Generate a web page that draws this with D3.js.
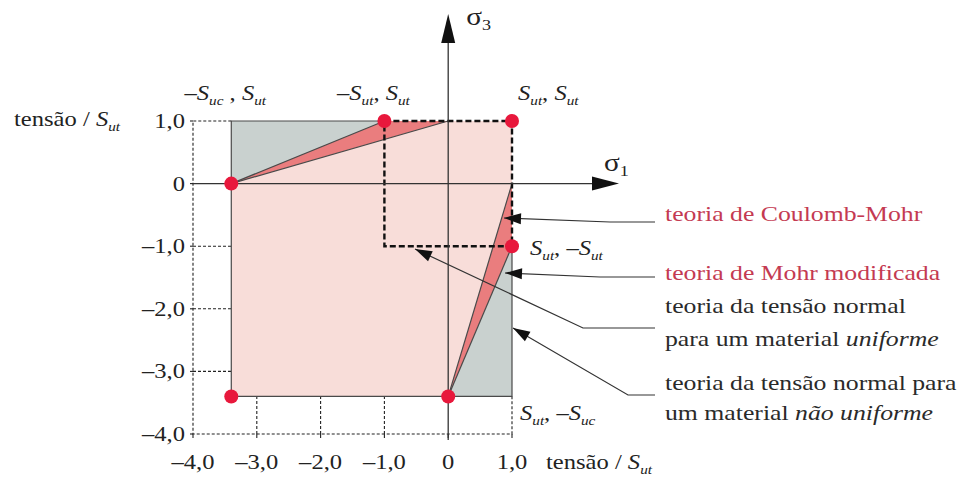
<!DOCTYPE html>
<html>
<head>
<meta charset="utf-8">
<script src="https://cdn.jsdelivr.net/npm/d3@7"></script>
<style>
  body { margin: 0; background: #fff; }
  svg { display: block; }
</style>
</head>
<body>
<svg id="chart" width="964" height="481" font-family="'Liberation Serif', Tinos, 'Times New Roman', Times, serif"></svg>
<script>
// Strengths, normalised by S_ut
const Sut = 1.0;
const Suc = 3.4;

// Axis ticks
const xTickValues = [-4, -3, -2, -1, 0, 1];
const xTickLabels = ["–4,0", "–3,0", "–2,0", "–1,0", "0", "1,0"];
const yTickValues = [1, 0, -1, -2, -3, -4];
const yTickLabels = ["1,0", "0", "–1,0", "–2,0", "–3,0", "–4,0"];

// Failure envelopes in the (σ1, σ3) plane
const nonUniformNormal = [[-Suc, Sut], [Sut, Sut], [Sut, -Suc], [-Suc, -Suc]];
const coulombMohr = [[-Suc, 0], [0, Sut], [Sut, Sut], [Sut, 0], [0, -Suc], [-Suc, -Suc]];
const modifiedMohrUpper = [[-Suc, 0], [-Sut, Sut], [0, Sut]];
const modifiedMohrLower = [[Sut, 0], [Sut, -Sut], [0, -Suc]];
const uniformNormal = [[-Sut, Sut], [Sut, Sut], [Sut, -Sut], [-Sut, -Sut]];
const keyPoints = [[-Suc, 0], [-Sut, Sut], [Sut, Sut], [Sut, -Sut], [0, -Suc], [-Suc, -Suc]];

// Corner labels: parts are [text, italic, subscript]
const cornerLabels = [
  { at: [-Suc, Sut], parts: [["–", 0, 0], ["S", 1, 0], ["uc", 1, 1], [" , ", 0, 0], ["S", 1, 0], ["ut", 1, 1]] },
  { at: [-Sut, Sut], parts: [["–", 0, 0], ["S", 1, 0], ["ut", 1, 1], [", ", 0, 0], ["S", 1, 0], ["ut", 1, 1]] },
  { at: [Sut, Sut],  parts: [["S", 1, 0], ["ut", 1, 1], [", ", 0, 0], ["S", 1, 0], ["ut", 1, 1]] },
  { at: [Sut, -Sut], parts: [["S", 1, 0], ["ut", 1, 1], [", –", 0, 0], ["S", 1, 0], ["ut", 1, 1]] },
  { at: [Sut, -Suc], parts: [["S", 1, 0], ["ut", 1, 1], [", –", 0, 0], ["S", 1, 0], ["uc", 1, 1]] }
];

// Legend entries (lines of [text, italic])
const legendItems = [
  { color: "#c43a52", lines: [[["teoria de Coulomb-Mohr", 0]]] },
  { color: "#c43a52", lines: [[["teoria de Mohr modificada", 0]]] },
  { color: "#2a2a2a", lines: [[["teoria da tensão normal", 0]], [["para um material ", 0], ["uniforme", 1]]] },
  { color: "#2a2a2a", lines: [[["teoria da tensão normal para", 0]], [["um material ", 0], ["não uniforme", 1]]] }
];

const SX = 1.17;           // horizontal text stretch
const svg = d3.select("#chart");

const x = d3.scaleLinear().domain([-4, 1]).range([193, 512]);
const y = d3.scaleLinear().domain([-4, 1]).range([434, 121]);
const line = d3.line().x(d => x(d[0])).y(d => y(d[1]));
const closed = d3.line().x(d => x(d[0])).y(d => y(d[1])).curve(d3.curveLinearClosed);

// Text helper: parts = [text, italic, subscript]
function richText(g, px, py, parts, opts) {
  const t = g.append("text")
    .attr("transform", `translate(${px},${py}) scale(${SX},1)`)
    .attr("font-size", opts.size)
    .attr("fill", opts.color || "#222")
    .attr("text-anchor", opts.anchor || "start");
  let shifted = false;
  parts.forEach(p => {
    const sp = t.append("tspan").text(p[0]);
    if (p[1]) sp.attr("font-style", "italic");
    if (p[2]) {
      sp.attr("font-size", opts.size * 0.62);
      if (!shifted) { sp.attr("dy", 5); shifted = true; }
    } else if (shifted) {
      sp.attr("dy", -5); shifted = false;
    }
  });
  return t;
}

// Fills
const fills = svg.append("g");
fills.append("path").attr("d", closed(nonUniformNormal)).attr("fill", "#c9d1cf");
fills.append("path").attr("d", closed(coulombMohr)).attr("fill", "#f8ddd9");
[modifiedMohrUpper, modifiedMohrLower].forEach(tri => {
  fills.append("path").attr("d", closed(tri)).attr("fill", "#ea7d7e");
});

// Dashed frame, grid stubs and ticks
const frame = svg.append("g").attr("fill", "none").attr("stroke", "#222")
  .attr("stroke-width", 1.1).attr("stroke-dasharray", "3,2");
frame.append("path").attr("d", line([[-Suc, 1], [-4, 1], [-4, -4], [1, -4], [1, -Suc]]));
yTickValues.filter(v => v < 0 && v > -4).forEach(v => {
  frame.append("path").attr("d", line([[-4, v], [-Suc, v]]));
});
xTickValues.filter(v => v > -4 && v < 0).forEach(v => {
  frame.append("path").attr("d", line([[v, -4], [v, -Suc]]));
});
const ticks = svg.append("g").attr("stroke", "#222").attr("stroke-width", 1.1);
yTickValues.forEach(v => {
  ticks.append("line").attr("x1", x(-4) - 3).attr("x2", x(-4)).attr("y1", y(v)).attr("y2", y(v));
});
xTickValues.forEach(v => {
  ticks.append("line").attr("x1", x(v)).attr("x2", x(v)).attr("y1", y(-4)).attr("y2", y(-4) + 4);
});

// Envelope outlines
const outl = svg.append("g").attr("fill", "none").attr("stroke", "#4a4a4a").attr("stroke-width", 1.2);
outl.append("path").attr("d", line([[-Sut, Sut], [-Suc, Sut], [-Suc, -Suc], [Sut, -Suc], [Sut, -Sut]]));
outl.append("path").attr("d", line([coulombMohr[0], coulombMohr[1]]));
outl.append("path").attr("d", line([modifiedMohrUpper[0], modifiedMohrUpper[1]]));
outl.append("path").attr("d", line([coulombMohr[3], coulombMohr[4]]));
outl.append("path").attr("d", line([modifiedMohrLower[1], modifiedMohrLower[2]]));

// Uniform normal-stress square (thick dashes)
svg.append("path").attr("d", closed(uniformNormal))
  .attr("fill", "none").attr("stroke", "#111").attr("stroke-width", 2.4)
  .attr("stroke-dasharray", "6,3");

// Principal stress axes with arrowheads
const axes = svg.append("g");
axes.append("line").attr("x1", x(0)).attr("x2", x(0)).attr("y1", y(-4) + 6).attr("y2", 30)
  .attr("stroke", "#333").attr("stroke-width", 1.3);
axes.append("path").attr("d", `M${x(0)},14 L${x(0) - 7},43 L${x(0) + 7},43 Z`).attr("fill", "#111");
axes.append("line").attr("x1", x(-4)).attr("x2", 600).attr("y1", y(0)).attr("y2", y(0))
  .attr("stroke", "#333").attr("stroke-width", 1.3);
axes.append("path").attr("d", `M619,${y(0)} L592,${y(0) - 7} L592,${y(0) + 7} Z`).attr("fill", "#111");

richText(axes, x(0) + 18, 25, [["σ", 0, 0], ["3", 0, 1]], { size: 25, color: "#222" });
richText(axes, 604, 171, [["σ", 0, 0], ["1", 0, 1]], { size: 25, color: "#222" });

// Key points
svg.append("g").selectAll("circle").data(keyPoints).join("circle")
  .attr("cx", d => x(d[0])).attr("cy", d => y(d[1])).attr("r", 7)
  .attr("fill", "#e8183c");

// Tick labels
const tl = svg.append("g");
xTickValues.forEach((v, i) => {
  richText(tl, x(v), 469, [[xTickLabels[i], 0, 0]], { size: 21, anchor: "middle" });
});
yTickValues.forEach((v, i) => {
  richText(tl, 185, y(v) + 7, [[yTickLabels[i], 0, 0]], { size: 21, anchor: "end" });
});
richText(tl, 546, 469, [["tensão / ", 0, 0], ["S", 1, 0], ["ut", 1, 1]], { size: 21 });
richText(tl, 120, 126, [["tensão / ", 0, 0], ["S", 1, 0], ["ut", 1, 1]], { size: 21, anchor: "end" });

// Corner labels
const cl = svg.append("g");
const cornerOffsets = [[-6, -21, "middle"], [-11, -21, "middle"], [6, -21, "start"], [18, 9, "start"], [8, 24, "start"]];
cornerLabels.forEach((c, i) => {
  const o = cornerOffsets[i];
  richText(cl, x(c.at[0]) + o[0], y(c.at[1]) + o[1], c.parts, { size: 21, anchor: o[2] });
});

// Legend and leader arrows
const lg = svg.append("g");
const leaders = [
  [[504, 218], [610, 222], [655, 222]],
  [[505, 273], [600, 277], [655, 277]],
  [[415, 249], [583, 328], [655, 328]],
  [[513, 328], [628, 395], [655, 395]]
];
const textY = [[221], [280], [313, 346], [390, 420]];
function arrowHead(tip, from) {
  const dx = from[0] - tip[0], dy = from[1] - tip[1];
  const len = Math.hypot(dx, dy), ux = dx / len, uy = dy / len;
  const L = 17, w = 5.5;
  const bx = tip[0] + ux * L, by = tip[1] + uy * L;
  return `M${tip[0]},${tip[1]} L${bx - uy * w},${by + ux * w} L${bx + uy * w},${by - ux * w} Z`;
}
leaders.forEach(pts => {
  lg.append("path").attr("d", d3.line()(pts)).attr("fill", "none")
    .attr("stroke", "#333").attr("stroke-width", 1.2);
  lg.append("path").attr("d", arrowHead(pts[0], pts[1])).attr("fill", "#111");
});
legendItems.forEach((item, i) => {
  item.lines.forEach((ln, j) => {
    richText(lg, 665, textY[i][j], ln.map(p => [p[0], p[1], 0]), { size: 22, color: item.color });
  });
});
</script>
</body>
</html>
